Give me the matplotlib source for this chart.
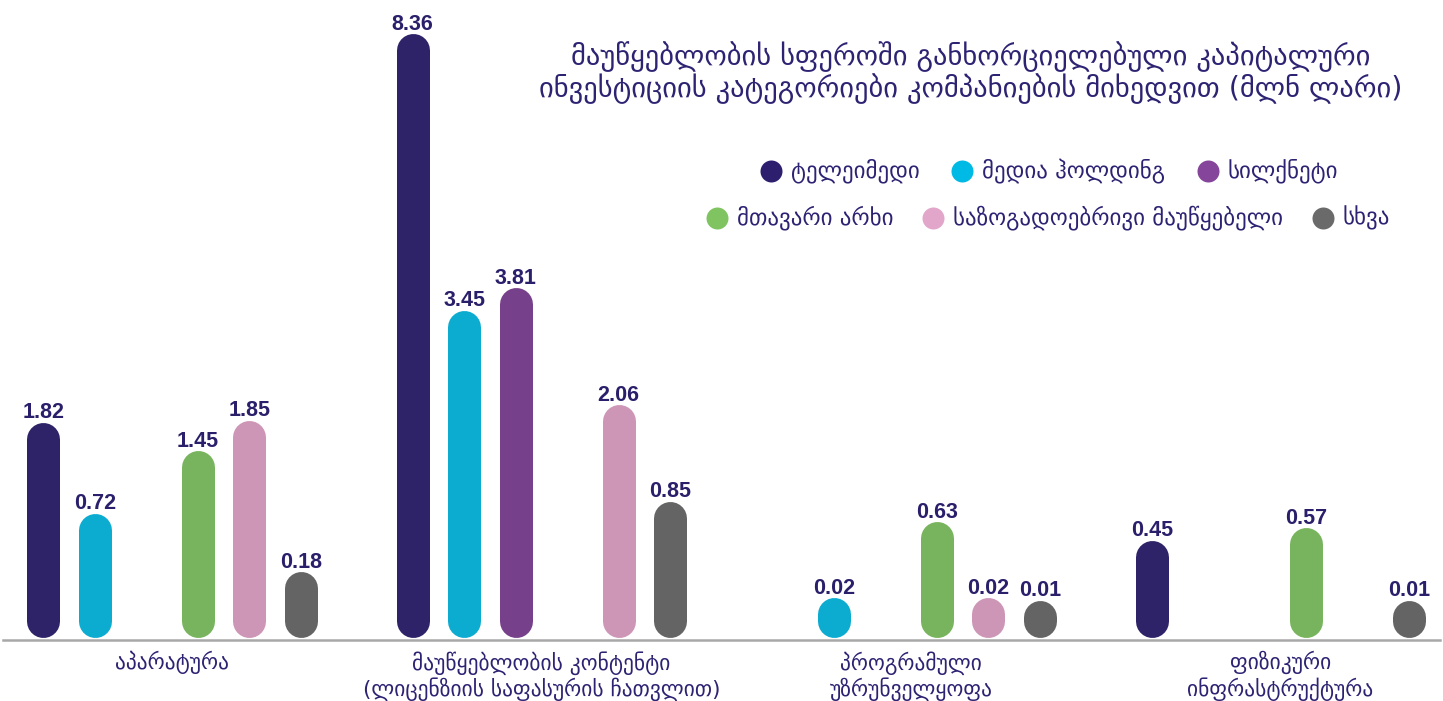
import numpy as np
import matplotlib
matplotlib.use("Agg")
import matplotlib.pyplot as plt
import matplotlib.transforms as mtransforms
from matplotlib.lines import Line2D

# ---------------- data ----------------
categories = ["აპარატურა",
              "მაუწყებლობის კონტენტი\n(ლიცენზიის საფასურის ჩათვლით)",
              "პროგრამული\nუზრუნველყოფა",
              "ფიზიკური\nინფრასტრუქტურა"]
series_names = ["ტელეიმედი", "მედია ჰოლდინგ", "სილქნეტი",
                "მთავარი არხი", "საზოგადოებრივი მაუწყებელი", "სხვა"]
imedi = [1.82, 8.36, np.nan, 0.45]
media_holding = [0.72, 3.45, 0.02, np.nan]
silknet = [np.nan, 3.81, np.nan, np.nan]
mtavari = [1.45, np.nan, 0.63, 0.57]
public = [1.85, 2.06, 0.02, np.nan]
other = [0.18, 0.85, 0.01, 0.01]
title = ("მაუწყებლობის სფეროში განხორციელებული კაპიტალური\n"
         "ინვესტიციის კატეგორიები კომპანიების მიხედვით (მლნ ლარი)")

series_values = [imedi, media_holding, silknet, mtavari, public, other]
bar_colors = ["#2e2268", "#0cabd0", "#77408b", "#78b45d", "#cd95b6", "#646464"]
legend_colors = ["#2d1f6e", "#00bae6", "#84459b", "#80c462", "#e2a6ca", "#6a6a6a"]
TEXT = "#2d2373"
GEO = ["DejaVu Sans"]

W, H = 1443, 701
fig = plt.figure(figsize=(W / 100, H / 100), dpi=100)
base_px = 640
ax = fig.add_axes([0, (H - base_px) / H, 1, base_px / H])

p = 0.75
ax.set_yscale("function", functions=(lambda v: np.sign(v) * np.abs(v) ** p,
                                     lambda v: np.sign(v) * np.abs(v) ** (1 / p)))
ax.set_ylim(0, 9.75)
grp_px, grp_step = 172, 369.5
ax.set_xlim((0 - grp_px) / grp_step, (W - grp_px) / grp_step)
for s in ax.spines.values():
    s.set_visible(False)
ax.set_xticks([])
ax.set_yticks([])
ax.patch.set_alpha(0)

# axis line
ax.axhline(0, xmin=3 / W, xmax=1440 / W, color="#a8a8a8", lw=1.8, zorder=1,
           clip_on=False)

bar_px = 33
gap_px = 3
step = 51.5 / grp_step
px2pt = 0.72
off = mtransforms.offset_copy(ax.transData, fig=fig,
                              y=(gap_px + bar_px / 2) * px2pt, units="points")
n = len(series_values)
for i, (vals, col) in enumerate(zip(series_values, bar_colors)):
    for g, v in enumerate(vals):
        if np.isnan(v):
            continue
        x = g + (i - (n - 1) / 2) * step
        ax.add_line(Line2D([x, x], [0, v], transform=off, color=col,
                           lw=bar_px * px2pt, solid_capstyle="round", zorder=3))
        ax.annotate(f"{v:.2f}", xy=(x, v),
                    xytext=(0, (gap_px + bar_px + 4) * px2pt),
                    textcoords="offset points", ha="center", va="baseline",
                    fontsize=15.5, fontweight="bold", color="#2a1f6a",
                    family="Liberation Sans", zorder=4)

# category labels
for g, lab in enumerate(categories):
    ax.annotate(lab, xy=(g, 0), xytext=(0, -11 * px2pt), textcoords="offset points",
                ha="center", va="top", fontsize=15.5, color=TEXT, family=GEO,
                linespacing=1.15)

# title
fig.text(971 / W, 1 - 73 / H, title, ha="center", va="center", fontsize=20.5,
         color=TEXT, family=GEO, linespacing=1.05)

# legend (manual)
leg_pos = [(771, 171), (962, 171), (1208, 171), (717, 218), (933, 218), (1323, 218)]
for (lx, ly), name, col in zip(leg_pos, series_names, legend_colors):
    fig.add_artist(Line2D([lx / W], [1 - ly / H], marker="o", markersize=22 * px2pt,
                          color=col, markeredgewidth=0, transform=fig.transFigure))
    fig.text((lx + 20) / W, 1 - ly / H, name, ha="left", va="center",
             fontsize=16.5, color=TEXT, family=GEO)

fig.savefig("out.png", dpi=100)
